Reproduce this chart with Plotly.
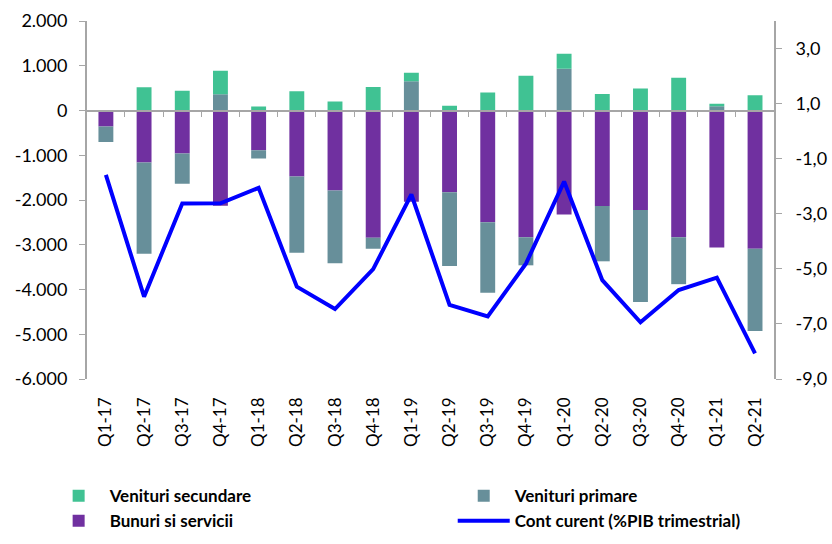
import plotly.graph_objects as go

# Quarterly current-account components (mil. EUR) and current account (% of quarterly GDP)
quarters = ["Q1-17", "Q2-17", "Q3-17", "Q4-17", "Q1-18", "Q2-18", "Q3-18", "Q4-18",
            "Q1-19", "Q2-19", "Q3-19", "Q4-19", "Q1-20", "Q2-20", "Q3-20", "Q4-20",
            "Q1-21", "Q2-21"]
bunuri_servicii = [-356, -1163, -963, -2126, -889, -1474, -1785, -2844,
                   -2037, -1825, -2496, -2830, -2326, -2133, -2222, -2830,
                   -3059, -3089]
venituri_primare = [-350, -2037, -674, 363, -185, -1704, -1630, -245,
                    652, -1650, -1578, -630, 933, -1237, -2059, -1051,
                    95, -1837]
venituri_secundare = [0, 518, 444, 526, 89, 430, 200, 526,
                      192, 104, 400, 778, 333, 370, 489, 733,
                      55, 341]
cont_curent = [-1.59, -6.01, -2.63, -2.62, -2.06, -5.65, -6.46, -5.01,
               -2.30, -6.31, -6.73, -4.81, -1.83, -5.41, -6.94, -5.77,
               -5.32, -8.07]

left_ticks = [-6000, -5000, -4000, -3000, -2000, -1000, 0, 1000, 2000]
left_tick_labels = ["-6.000", "-5.000", "-4.000", "-3.000", "-2.000", "-1.000",
                    "0", "1.000", "2.000"]
right_ticks = [3, 1, -1, -3, -5, -7, -9]
right_tick_labels = ["3,0", "1,0", "-1,0", "-3,0", "-5,0", "-7,0", "-9,0"]

W, H = 832, 544
ML, MR, MT, MB = 5, 5, 21, 163
PLOT_L, PLOT_R = 87, 776
gw = W - ML - MR
x_dom = [(PLOT_L - ML) / gw, (PLOT_R - ML) / gw]

GREEN = "#40C293"
TEAL = "#678F9A"
PURPLE = "#7030A0"
BLUE = "#0000FF"
AXIS = "#A6A6A6"
FONT = "Lato"
FS = 18

fig = go.Figure()
fig.add_trace(go.Bar(x=quarters, y=bunuri_servicii, name="Bunuri si servicii",
                     marker=dict(color=PURPLE, line=dict(width=0)),
                     legend="legend", legendrank=2))
fig.add_trace(go.Bar(x=quarters, y=venituri_primare, name="Venituri primare",
                     marker=dict(color=TEAL, line=dict(width=0)),
                     legend="legend2", legendrank=1))
fig.add_trace(go.Bar(x=quarters, y=venituri_secundare, name="Venituri secundare",
                     marker=dict(color=GREEN, line=dict(width=0)),
                     legend="legend", legendrank=1))
fig.add_trace(go.Scatter(x=quarters, y=cont_curent, name="Cont curent (%PIB trimestrial)",
                         mode="lines", line=dict(color=BLUE, width=4),
                         xaxis="x2", yaxis="y2", legend="legend2", legendrank=2))

cat_range = [-0.5, len(quarters) - 0.5]
zero_pos = (0 - left_ticks[0]) / (left_ticks[-1] - left_ticks[0])

legend_style = dict(orientation="v", y=-0.277, xanchor="left", yanchor="top",
                    traceorder="normal", itemwidth=52, bgcolor="rgba(0,0,0,0)",
                    font=dict(family=FONT, size=17, color="black", weight="bold"))

fig.update_layout(
    width=W, height=H,
    margin=dict(l=ML, r=MR, t=MT, b=MB),
    paper_bgcolor="white", plot_bgcolor="white",
    barmode="relative", bargap=0.61,
    font=dict(family=FONT, size=FS, color="black"),
    showlegend=True,
    legend=dict(x=0.052, **legend_style),
    legend2=dict(x=0.546, **legend_style),
    # category axis drawn along the zero line, ticks between quarters
    xaxis=dict(domain=x_dom, type="category", range=cat_range,
               anchor="free", position=zero_pos,
               showline=True, linecolor=AXIS, linewidth=1.5,
               ticks="outside", tickson="boundaries", ticklen=6, tickcolor=AXIS,
               showticklabels=False, showgrid=False, zeroline=False),
    # quarter labels along the bottom
    xaxis2=dict(domain=x_dom, type="category", range=cat_range, overlaying="x",
                anchor="y", side="bottom", showline=False, ticks="",
                tickangle=-90, tickfont=dict(family=FONT, size=17, color="black"),
                showgrid=False, zeroline=False, ticklabelstandoff=14),
    yaxis=dict(domain=[0, 1], range=[left_ticks[0], left_ticks[-1]],
               tickvals=left_ticks, ticktext=left_tick_labels,
               showline=True, linecolor=AXIS, linewidth=1.5,
               ticks="outside", ticklen=6, tickcolor=AXIS,
               showgrid=False, zeroline=False, anchor="x", ticklabelstandoff=8,
               tickfont=dict(family=FONT, size=FS, color="black")),
    yaxis2=dict(overlaying="y", side="right", anchor="x", range=[-9, 4],
                tickvals=right_ticks, ticktext=right_tick_labels,
                showline=True, linecolor=AXIS, linewidth=1.5,
                ticks="outside", ticklen=6, tickcolor=AXIS,
                showgrid=False, zeroline=False, ticklabelstandoff=10,
                tickfont=dict(family=FONT, size=FS, color="black")),
)

fig.write_html("out.html")
